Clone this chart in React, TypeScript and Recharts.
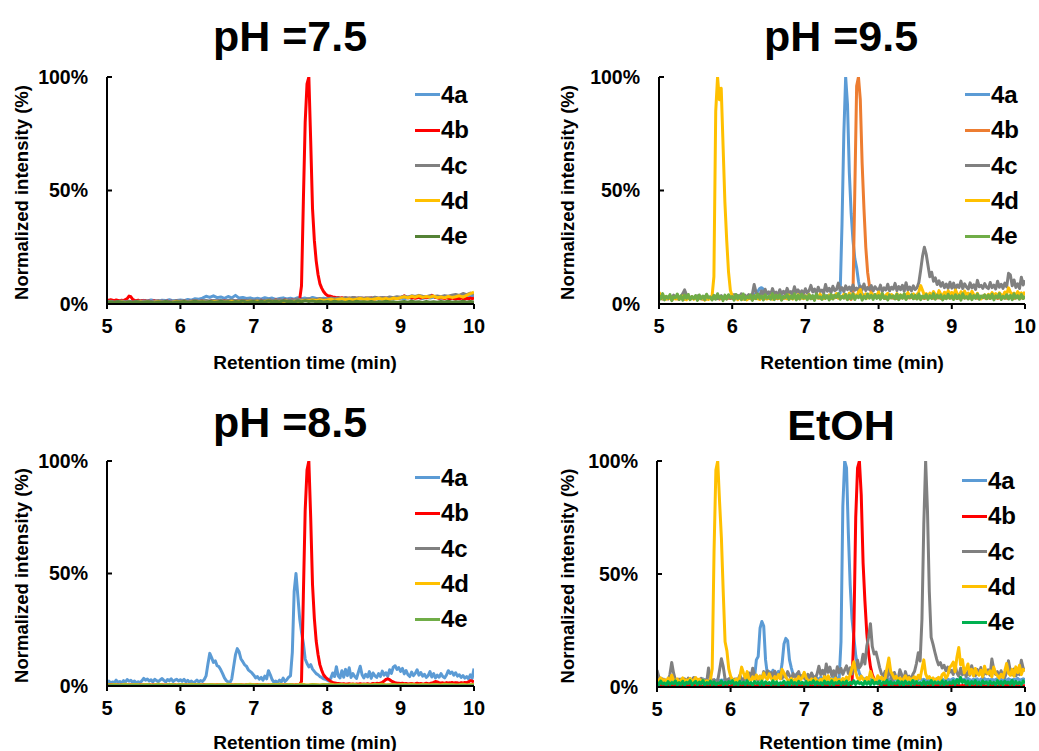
import React from "react";
import { LineChart, Line, XAxis, YAxis, Legend, Label } from "recharts";

// sampling grids of the chromatograms (min)
const timesFine = Array.from({ length: 201 }, (_, i) => +(5 + i * 0.025).toFixed(3));
const timesCoarse = Array.from({ length: 101 }, (_, i) => +(5 + i * 0.05).toFixed(2));

const xTicks = [5, 6, 7, 8, 9, 10];
const yTicks = [0, 50, 100];
const names = ["4a", "4b", "4c", "4d", "4e"];

const BLUE = "#5B9BD5";
const RED = "#FF0000";
const ORANGE = "#ED7D31";
const GRAY = "#808080";
const YELLOW = "#FFC000";

// ---------- pH = 7.5 ----------
const ph75_4a = [
  1.2, 1.0, 1.3, 0.9, 1.1, 1.4, 1.0, 1.2, 1.5, 1.1,
  1.6, 1.3, 1.8, 1.4, 1.2, 1.7, 1.5, 1.9, 1.4, 1.6,
  1.8, 1.5, 2.0, 1.7, 2.3, 2.1, 2.6, 3.4, 2.9, 3.6,
  2.8, 3.1, 2.5, 3.3, 2.7, 3.8, 2.6, 2.9, 2.4, 2.7,
  2.2, 2.5, 2.1, 2.8, 2.3, 2.6, 2.0, 2.4, 2.7, 2.2,
  2.5, 2.1, 2.8, 2.3, 2.6, 2.2, 2.9, 2.4, 2.1, 2.5,
  2.3, 2.7, 2.2, 2.5, 2.0, 2.6, 2.3, 2.1, 2.4, 2.2,
  2.0, 2.4, 2.1, 2.6, 2.3, 2.0, 2.5, 2.2, 2.7, 2.4,
  2.6, 2.3, 2.8, 2.5, 3.0, 2.7, 2.4, 2.9, 2.6, 3.1,
  2.8, 2.5, 3.0, 2.7, 3.2, 2.9, 3.4, 3.0, 3.6, 3.2,
  3.5,
];
const ph75_4b = [
  1.8, 1.6, 1.9, 1.7, 1.5, 1.8, 1.6, 1.4, 1.7, 1.5, 1.9, 2.4, 3.5, 3.2, 2.0, 1.6, 1.4, 1.7, 1.3, 1.5,
  1.2, 1.4, 1.1, 1.3, 1.0, 1.2, 1.4, 1.1, 1.3, 1.0, 1.2, 0.9, 1.1, 1.3, 1.0, 1.2, 0.9, 1.1, 1.3, 1.0,
  1.2, 1.0, 1.3, 1.1, 0.9, 1.2, 1.0, 1.4, 1.1, 1.3, 1.0, 1.2, 1.4, 1.1, 1.3, 1.0, 1.2, 1.5, 1.1, 1.3,
  1.2, 1.4, 1.1, 1.3, 1.5, 1.2, 1.4, 1.1, 1.3, 1.6, 1.2, 1.4, 1.3, 1.5, 1.2, 1.4, 1.6, 1.3, 1.5, 1.2,
  1.4, 1.6, 1.3, 1.5, 1.7, 1.4, 1.6, 1.3, 1.5, 1.7, 1.4, 1.6, 1.8, 1.5, 1.7, 1.4, 1.6, 1.8, 1.5, 1.7,
  1.6, 1.8, 1.5, 1.7, 1.6, 2.0, 8, 45, 80, 97, 100, 72, 42, 28, 19, 13, 9, 7, 5.5, 4.5,
  3.8, 3.5, 3.4, 3.1, 3.0, 2.8, 2.9, 2.6, 2.8, 2.5, 2.7, 2.4, 2.6, 2.3, 2.5, 2.7, 2.4, 2.6, 2.3, 2.5,
  2.4, 2.6, 2.3, 2.5, 2.7, 2.4, 2.2, 2.5, 2.3, 2.6, 2.4, 2.7, 2.5, 2.3, 2.6, 2.8, 2.5, 2.7, 2.9, 2.6,
  2.8, 3.2, 3.6, 3.0, 2.7, 2.9, 2.6, 2.8, 2.5, 2.7, 2.9, 2.6, 2.8, 3.0, 2.7, 2.9, 3.3, 3.8, 3.4, 2.9,
  2.7, 2.5, 2.8, 2.6, 2.4, 2.7, 2.5, 2.3, 2.6, 2.4, 2.2, 2.5, 2.3, 2.6, 2.4, 2.2, 2.5, 2.3, 2.6, 2.4,
  2.5,
];
const ph75_4c = [
  1.0, 1.2, 0.9, 1.1, 1.3, 1.0, 1.2, 0.9, 1.1, 1.3,
  1.1, 1.3, 1.0, 1.2, 1.4, 1.1, 1.3, 1.0, 1.2, 1.4,
  1.2, 1.4, 1.1, 1.3, 1.5, 1.2, 1.4, 1.6, 1.3, 1.5,
  1.4, 1.6, 1.3, 1.5, 1.7, 1.4, 1.6, 1.3, 1.5, 1.7,
  1.5, 1.7, 1.4, 1.6, 1.8, 1.5, 1.7, 1.9, 1.6, 1.8,
  1.7, 1.9, 2.2, 1.8, 2.0, 2.3, 1.9, 2.1, 2.4, 2.0,
  2.2, 2.6, 2.3, 2.7, 2.4, 2.8, 2.5, 2.9, 2.6, 2.8,
  2.5, 2.8, 2.6, 3.0, 2.7, 2.9, 2.6, 3.1, 2.8, 3.2,
  3.0, 3.4, 3.1, 3.6, 3.3, 3.8, 3.4, 3.2, 3.6, 3.3,
  3.5, 3.2, 3.7, 3.4, 3.9, 4.2, 3.8, 4.6, 4.1, 4.8,
  4.3,
];
const ph75_4d = [
  0.6, 0.8, 0.5, 0.7, 0.9, 0.6, 0.8, 0.5, 0.7, 0.9,
  0.7, 0.9, 0.6, 0.8, 1.0, 0.7, 0.9, 0.6, 0.8, 1.0,
  0.8, 1.0, 0.7, 0.9, 1.1, 0.8, 1.0, 0.7, 0.9, 1.1,
  0.9, 1.1, 0.8, 1.0, 1.2, 0.9, 1.1, 0.8, 1.0, 1.2,
  1.0, 1.2, 0.9, 1.1, 1.3, 1.0, 1.2, 0.9, 1.1, 1.3,
  0.5, 1.2, 1.0, 1.3, 1.6, 1.4, 1.8, 1.5, 1.9, 1.6,
  1.8, 2.1, 1.7, 2.0, 2.3, 1.9, 2.2, 1.8, 2.1, 2.4,
  2.0, 2.3, 1.9, 2.2, 2.5, 2.1, 2.4, 2.0, 2.6, 2.3,
  2.8, 3.2, 2.7, 3.4, 3.0, 3.6, 2.9, 3.3, 3.0, 3.5,
  2.8, 3.1, 2.7, 3.3, 2.9, 3.2, 3.6, 3.0, 3.8, 4.6,
  5.2,
];
const ph75_4e = [
  0.6, 0.9, 0.7, 1.0, 0.8, 0.6, 0.9, 0.7, 1.0, 0.8,
  0.7, 1.0, 0.8, 0.6, 0.9, 0.7, 1.1, 0.8, 0.6, 0.9,
  0.8, 1.1, 0.7, 0.9, 1.2, 0.8, 1.0, 0.7, 1.1, 0.9,
  0.8, 1.2, 0.9, 1.0, 0.7, 1.1, 0.9, 1.3, 0.8, 1.0,
  1.1, 0.8, 1.2, 0.9, 1.3, 1.0, 1.2, 0.9, 1.4, 1.1,
  1.2, 0.9, 1.3, 1.0, 1.4, 1.1, 1.3, 1.0, 1.2, 0.9,
  1.1, 0.8, 1.2, 0.9, 1.0, 0.7, 1.1, 0.8, 1.2, 0.9,
  1.0, 0.8, 1.1, 0.7, 1.0, 0.8, 1.2, 0.9, 1.0, 0.7,
  0.9, 1.1, 0.8, 1.2, 0.9, 1.0, 0.7, 1.1, 0.8, 1.0,
  0.8, 1.1, 0.9, 1.2, 0.8, 1.0, 0.9, 1.2, 0.8, 1.1,
  0.9,
];

// ---------- pH = 9.5 ----------
const ph95_4a = [
  2.5, 3.0, 2.2, 2.8, 2.4, 3.1, 2.6, 2.9, 2.3, 2.7, 3.0, 2.5, 2.8, 2.2, 2.6, 3.0, 2.4, 2.8, 2.5, 2.9,
  2.6, 3.0, 2.4, 2.8, 2.5, 2.9, 2.3, 2.7, 3.1, 2.5, 2.8, 2.4, 2.9, 2.6, 3.0, 2.5, 2.8, 2.3, 2.7, 2.9,
  2.6, 3.1, 2.7, 3.3, 2.9, 3.4, 3.0, 3.5, 3.2, 3.6, 3.3, 3.8, 4.2, 4.8, 5.5, 6.8, 7.2, 6.5, 5.6, 4.8,
  4.2, 3.8, 3.5, 3.9, 3.4, 3.7, 3.3, 3.6, 3.2, 3.5, 3.1, 3.4, 3.0, 3.3, 3.6, 3.2, 3.5, 3.1, 3.4, 3.0,
  3.3, 3.6, 3.2, 3.5, 3.1, 3.4, 3.7, 3.3, 3.6, 3.2, 3.5, 3.8, 3.4, 3.7, 3.3, 3.6, 3.9, 3.5, 3.8, 5.0,
  35, 75, 100, 88, 58, 40, 28, 20, 16, 10, 6, 4.5, 3.8, 3.5, 3.9, 3.4, 3.7, 3.3, 3.6, 3.2,
  3.5, 3.1, 3.4, 3.0, 3.3, 3.6, 3.2, 3.5, 3.1, 3.4, 3.0, 3.3, 3.6, 3.2, 3.5, 3.1, 3.4, 3.7, 3.3, 3.6,
  3.2, 3.5, 3.1, 3.4, 3.0, 3.3, 3.6, 3.2, 3.5, 3.1, 3.4, 3.0, 3.3, 3.6, 3.2, 3.5, 3.1, 3.4, 3.0, 3.3,
  3.5, 3.2, 3.6, 3.1, 3.4, 3.0, 3.3, 3.7, 3.2, 3.5, 3.1, 3.4, 3.6, 3.0, 3.3, 3.5, 3.2, 3.6, 3.1, 3.4,
  3.2, 3.5, 3.0, 3.4, 3.6, 3.1, 3.3, 3.5, 3.2, 3.6, 3.0, 3.4, 3.2, 3.5, 3.1, 3.3, 3.6, 3.2, 3.4, 3.0,
  3.2,
];
const ph95_4b = [
  2.4, 2.8, 2.2, 2.6, 3.0, 2.3, 2.7, 2.1, 2.5, 2.9, 2.2, 2.6, 2.4, 2.8, 2.1, 2.5, 2.9, 2.3, 2.7, 2.4,
  2.6, 2.2, 2.8, 2.4, 2.1, 2.7, 2.3, 2.9, 2.5, 2.2, 2.6, 2.4, 2.8, 2.1, 2.5, 2.3, 2.7, 2.2, 2.6, 2.4,
  2.5, 2.9, 2.3, 2.7, 2.4, 2.8, 2.2, 2.6, 3.0, 2.5, 2.3, 2.7, 2.4, 2.9, 2.6, 2.2, 2.8, 2.5, 2.3, 2.7,
  2.4, 2.8, 2.6, 3.0, 2.5, 2.3, 2.7, 2.9, 2.4, 2.6, 3.1, 2.5, 2.8, 2.4, 2.7, 3.0, 2.6, 2.3, 2.9, 2.5,
  2.7, 3.1, 2.6, 2.9, 2.4, 2.8, 3.2, 2.7, 2.5, 3.0, 2.6, 2.9, 3.3, 2.8, 2.5, 3.1, 2.7, 3.0, 2.6, 2.9,
  2.8, 3.2, 2.7, 3.0, 2.6, 2.0, 4, 50, 96, 100, 90, 62, 42, 25, 14, 8, 5, 3.5, 3.0, 3.3,
  2.9, 2.6, 3.1, 2.7, 2.4, 2.9, 2.6, 3.0, 2.5, 2.8, 2.4, 2.9, 2.6, 3.1, 2.7, 2.5, 2.9, 2.6, 3.0, 2.7,
  2.5, 2.9, 2.6, 3.0, 2.7, 2.4, 2.8, 2.6, 3.1, 2.7, 2.5, 2.9, 2.6, 3.0, 2.4, 2.8, 2.5, 2.9, 2.7, 3.1,
  2.6, 3.0, 2.7, 2.4, 2.8, 2.5, 3.0, 2.6, 2.9, 2.5, 2.8, 2.4, 3.1, 2.7, 2.5, 2.9, 2.6, 3.0, 2.7, 2.4,
  2.8, 2.5, 3.0, 2.6, 2.9, 2.4, 2.7, 3.1, 2.6, 2.9, 2.5, 2.8, 3.0, 2.6, 2.4, 2.9, 2.7, 3.1, 2.6, 2.8,
  2.7,
];
const ph95_4c = [
  3.2, 2.4, 3.8, 2.6, 3.0, 2.2, 3.5, 2.8, 3.9, 2.5, 3.1, 2.7, 3.4, 4.6, 6.2, 4.1, 3.0, 2.6, 3.3, 2.4,
  2.9, 3.6, 2.3, 3.1, 2.6, 3.4, 2.2, 2.9, 2.5, 3.2, 2.7, 3.5, 2.4, 3.0, 3.7, 2.6, 3.3, 2.8, 3.6, 2.5,
  3.4, 4.2, 3.1, 3.8, 2.9, 4.5, 3.3, 3.9, 3.0, 4.1, 3.5, 4.3, 8.6, 5.2, 4.0, 3.6, 5.8, 4.2, 6.5, 4.6,
  5.4, 4.1, 6.8, 4.5, 5.2, 3.9, 6.3, 4.4, 5.6, 4.0, 6.9, 4.8, 5.5, 4.2, 7.6, 5.1, 6.2, 4.6, 5.8, 4.3,
  6.7, 4.9, 5.8, 8.2, 5.3, 6.6, 4.7, 7.4, 5.5, 6.1, 4.8, 8.6, 5.6, 6.9, 5.0, 7.8, 5.9, 6.4, 9.2, 6.0,
  7.2, 5.4, 8.0, 6.3, 7.5, 5.8, 8.4, 6.1, 7.0, 5.6, 7.9, 6.2, 8.8, 5.9, 7.3, 6.4, 8.1, 5.7, 7.6, 6.6,
  6.0, 8.3, 5.5, 7.1, 6.2, 8.7, 5.8, 7.4, 6.5, 9.1, 5.9, 7.7, 6.3, 8.2, 5.6, 9.4, 6.1, 7.5, 5.8, 8.0,
  6.4, 7.2, 9.5, 15, 21, 25, 22, 17, 12, 14, 10, 11.5, 8.6, 10.2, 7.8, 9.4, 7.2, 8.8, 6.9, 9.6,
  7.0, 9.2, 6.5, 8.4, 7.3, 10.1, 6.8, 8.9, 7.5, 6.6, 9.3, 7.1, 8.5, 6.4, 10.4, 7.6, 8.2, 6.9, 9.0, 7.4,
  6.8, 9.5, 7.2, 8.3, 6.6, 10.0, 7.4, 8.7, 6.9, 9.2, 7.6, 13.5, 12.8, 8.0, 10.6, 7.3, 8.9, 6.8, 11.8, 8.4,
  10.5,
];
const ph95_4d = [
  5.2, 3.8, 2.6, 3.4, 2.1, 3.0, 2.4, 1.8, 2.9, 2.2, 3.3, 2.0, 2.7, 3.5, 2.3, 1.9, 2.8, 2.4, 3.1, 2.1,
  2.6, 1.9, 3.2, 2.3, 2.8, 1.7, 2.5, 2.0, 3.0, 3.5, 12, 85, 100, 90, 95, 70, 45, 28, 14, 6,
  3.5, 2.4, 3.1, 1.9, 2.7, 3.3, 2.2, 2.9, 1.8, 2.6, 3.4, 2.1, 2.8, 3.6, 2.3, 2.0, 3.0, 2.5, 3.7, 2.2,
  2.9, 3.5, 2.1, 2.6, 3.8, 2.4, 3.1, 2.0, 2.7, 3.4, 2.3, 3.9, 2.6, 2.2, 3.3, 2.8, 4.1, 2.5, 3.0, 2.4,
  3.6, 2.3, 4.2, 2.9, 3.3, 2.1, 3.8, 2.6, 4.4, 3.0, 2.4, 3.5, 2.8, 4.0, 2.5, 3.7, 3.1, 4.6, 2.7, 3.4,
  2.9, 4.3, 3.2, 2.6, 4.8, 3.5, 2.8, 4.1, 3.3, 5.2, 6.4, 3.9, 3.0, 4.5, 2.7, 3.8, 4.9, 3.2, 4.1, 3.6,
  5.3, 3.1, 4.4, 2.8, 3.9, 4.7, 3.0, 4.2, 3.5, 2.9, 4.6, 3.3, 4.0, 2.8, 4.3, 3.6, 5.0, 3.2, 3.8, 4.5,
  3.1, 4.2, 5.4, 8.1, 6.0, 3.9, 4.6, 3.3, 4.8, 3.6, 5.5, 4.1, 3.4, 5.9, 4.3, 3.7, 5.2, 4.0, 5.8, 4.4,
  5.1, 3.8, 6.2, 4.5, 3.6, 5.4, 4.2, 5.7, 3.9, 4.8, 3.5, 5.6, 4.1, 3.3, 4.7, 2.6, 2.2, 3.4, 4.0, 3.1,
  4.3, 3.5, 5.0, 3.8, 4.6, 3.2, 4.9, 4.1, 3.6, 5.3, 4.4, 7.1, 5.2, 4.0, 4.8, 3.7, 5.5, 4.2, 4.9, 3.9,
  5.4,
];
const ph95_4e = [
  3.8, 2.2, 4.6, 1.8, 3.4, 2.6, 4.1, 1.5, 3.2, 2.8, 4.4, 2.0, 3.6, 1.7, 3.9, 2.5, 4.2, 1.9, 3.3, 2.4,
  3.7, 1.6, 4.0, 2.3, 3.5, 1.9, 4.3, 2.7, 3.1, 1.8, 3.8, 2.1, 4.5, 2.6, 3.4, 1.5, 3.9, 2.2, 4.1, 2.8,
  3.3, 1.7, 4.2, 2.4, 3.6, 1.9, 4.4, 2.0, 3.2, 2.7, 4.0, 1.6, 3.7, 2.3, 4.3, 2.5, 3.5, 1.8, 4.1, 2.6,
  3.4, 2.1, 4.6, 1.9, 3.8, 2.5, 4.0, 1.7, 3.3, 2.8, 4.2, 2.0, 3.6, 2.4, 4.5, 1.8, 3.9, 2.2, 4.3, 2.6,
  3.5, 1.9, 4.1, 2.3, 3.7, 1.6, 4.4, 2.7, 3.2, 2.0, 4.0, 2.5, 3.6, 1.8, 4.2, 2.2, 3.8, 2.9, 4.6, 2.1,
  3.4, 2.6, 4.3, 1.9, 3.9, 2.4, 4.5, 2.0, 3.6, 2.8, 4.1, 1.7, 3.5, 2.3, 4.4, 2.6, 3.8, 2.0, 4.2, 2.5,
  3.7, 2.1, 4.6, 2.4, 3.3, 1.8, 4.0, 2.7, 3.6, 2.2, 4.3, 1.9, 3.9, 2.5, 4.5, 2.0, 3.4, 2.8, 4.1, 2.3,
  3.8, 2.2, 4.4, 1.9, 3.5, 2.6, 4.2, 2.0, 3.7, 2.4, 4.6, 2.1, 3.9, 2.7, 4.0, 1.8, 3.6, 2.3, 4.3, 2.5,
  3.6, 2.0, 4.1, 2.4, 3.8, 1.7, 4.5, 2.6, 3.3, 2.2, 4.2, 1.9, 3.7, 2.5, 4.4, 2.1, 3.5, 2.8, 4.0, 2.3,
  3.9, 2.4, 4.3, 1.8, 3.6, 2.7, 4.6, 2.0, 3.4, 2.5, 4.1, 2.2, 3.8, 1.9, 4.5, 2.6, 3.7, 2.1, 4.2, 2.4,
  3.5,
];

// ---------- pH = 8.5 ----------
const ph85_4a = [
  1.5, 2.2, 1.2, 1.8, 1.4, 2.6, 1.6, 2.0, 1.3, 2.4, 1.7, 2.9, 2.1, 2.5, 1.6, 2.2, 1.4, 1.9, 1.5, 2.3,
  3.4, 2.6, 3.1, 2.2, 2.8, 1.8, 3.0, 2.4, 1.9, 2.7, 3.3, 2.5, 1.8, 2.9, 2.3, 3.2, 2.0, 2.6, 3.0, 2.2,
  2.8, 2.1, 3.0, 1.8, 2.5, 1.6, 2.2, 1.4, 1.9, 2.6, 1.8, 2.4, 2.0, 2.9, 4.5, 9.8, 14.5, 12.6, 10.5, 11.2,
  9.0, 8.6, 7.2, 5.5, 3.6, 2.4, 1.8, 1.5, 3.2, 8.5, 13.8, 16.6, 15.2, 12.0, 10.8, 9.4, 8.8, 7.2, 6.5, 5.8,
  4.8, 3.6, 4.2, 3.0, 3.8, 2.6, 4.4, 3.2, 6.8, 5.0, 2.8, 1.6, 2.2, 1.5, 2.6, 1.8, 3.5, 2.0, 2.8, 3.9,
  4.5, 15, 42, 50, 40, 30, 24, 19, 12, 10, 8.5, 9.5, 7.5, 6.5, 5.5, 5.0, 4.2, 3.8, 3.2, 3.0,
  2.6, 2.2, 3.5, 5.8, 4.2, 8.6, 4.5, 3.6, 6.8, 3.9, 7.4, 4.6, 8.1, 3.8, 5.5, 4.2, 3.4, 6.2, 8.8, 5.0,
  3.6, 5.2, 4.0, 6.4, 3.4, 5.8, 4.5, 3.8, 5.5, 4.2, 6.6, 4.8, 5.9, 4.3, 7.2, 5.6, 8.4, 9.0, 7.4, 8.2,
  6.5, 7.8, 5.4, 6.9, 5.0, 4.2, 6.2, 4.6, 5.6, 7.2, 4.8, 6.0, 4.4, 5.2, 3.8, 4.6, 6.4, 4.0, 5.5, 3.6,
  4.8, 3.9, 5.5, 4.2, 3.6, 4.9, 6.8, 5.6, 6.2, 4.8, 5.9, 4.4, 5.0, 3.8, 4.6, 3.5, 4.2, 3.2, 5.0, 3.4,
  7.8,
];
const ph85_4b = [
  0.4, 0.6, 0.5, 0.7, 0.4, 0.6, 0.5, 0.3, 0.6, 0.5, 0.4, 0.7, 0.5, 0.6, 0.4, 0.5, 0.7, 0.4, 0.6, 0.5,
  0.6, 0.4, 0.5, 0.7, 0.3, 0.6, 0.4, 0.5, 0.7, 0.4, 0.6, 0.5, 0.3, 0.6, 0.5, 0.7, 0.4, 0.6, 0.3, 0.5,
  0.5, 0.7, 0.4, 0.6, 0.5, 0.3, 0.6, 0.4, 0.7, 0.5, 0.4, 0.6, 0.5, 0.7, 0.4, 0.5, 0.3, 0.6, 0.5, 0.4,
  0.6, 0.5, 0.4, 0.7, 0.5, 0.6, 0.3, 0.5, 0.6, 0.4, 0.7, 0.5, 0.4, 0.6, 0.5, 0.3, 0.6, 0.7, 0.4, 0.5,
  0.4, 0.6, 0.7, 0.5, 0.4, 0.6, 0.5, 0.3, 0.6, 0.4, 0.5, 0.7, 0.4, 0.6, 0.5, 0.4, 0.6, 0.5, 0.7, 0.4,
  0.5, 0.6, 0.4, 0.6, 0.5, 0.7, 2, 40, 78, 96, 100, 75, 45, 30, 20, 14, 9.5, 7, 5, 4,
  3.2, 2.6, 2.0, 1.6, 1.4, 1.2, 1.1, 1.0, 0.9, 1.0, 0.8, 0.9, 1.0, 0.8, 0.9, 0.7, 0.9, 0.8, 1.0, 0.8,
  0.9, 0.8, 1.0, 0.8, 0.9, 1.1, 0.9, 1.2, 1.0, 1.3, 1.6, 2.2, 2.9, 3.2, 2.8, 2.2, 1.8, 1.5, 1.3, 1.2,
  1.1, 1.2, 1.0, 1.1, 0.9, 1.0, 1.1, 0.9, 1.0, 1.2, 1.0, 1.1, 0.9, 1.0, 1.2, 1.0, 1.1, 1.3, 1.6, 2.0,
  1.8, 1.5, 1.3, 1.4, 1.2, 1.5, 1.3, 1.4, 1.6, 1.3, 1.5, 1.4, 1.2, 1.5, 1.3, 1.6, 1.4, 1.8, 2.4, 2.2,
  1.8,
];
const ph85_4c = [
  0.4, 0.3, 0.5, 0.3, 0.4, 0.6, 0.3, 0.4, 0.5, 0.3,
  0.4, 0.5, 0.3, 0.4, 0.6, 0.4, 0.3, 0.5, 0.4, 0.3,
  0.5, 0.4, 0.3, 0.6, 0.4, 0.5, 0.3, 0.4, 0.5, 0.4,
  0.3, 0.5, 0.4, 0.6, 0.3, 0.4, 0.5, 0.3, 0.4, 0.6,
  0.4, 0.3, 0.5, 0.4, 0.3, 0.5, 0.4, 0.6, 0.3, 0.4,
  0.5, 0.3, 0.4, 0.6, 0.4, 0.3, 0.5, 0.4, 0.3, 0.5,
  0.4, 0.6, 0.3, 0.4, 0.5, 0.3, 0.4, 0.6, 0.4, 0.3,
  0.5, 0.4, 0.3, 0.5, 0.4, 0.6, 0.3, 0.4, 0.5, 0.3,
  0.4, 0.5, 0.3, 0.6, 0.4, 0.3, 0.5, 0.4, 0.3, 0.5,
  0.4, 0.3, 0.6, 0.4, 0.5, 0.3, 0.4, 0.6, 0.3, 0.4,
  0.5,
];
const ph85_4d = [
  0.6, 0.5, 0.7, 0.5, 0.6, 0.8, 0.5, 0.6, 0.7, 0.5,
  0.6, 0.7, 0.5, 0.6, 0.8, 0.6, 0.5, 0.7, 0.6, 0.5,
  0.7, 0.6, 0.5, 0.8, 0.6, 0.7, 0.5, 0.6, 0.7, 0.6,
  0.5, 0.7, 0.6, 0.8, 0.5, 0.6, 0.7, 0.5, 0.6, 0.8,
  0.6, 0.5, 0.7, 0.6, 0.5, 0.7, 0.6, 0.8, 0.5, 0.6,
  0.7, 0.5, 0.6, 0.8, 0.6, 0.5, 0.7, 0.6, 0.5, 0.7,
  0.6, 0.8, 0.5, 0.6, 0.7, 0.5, 0.6, 0.8, 0.6, 0.5,
  0.7, 0.6, 0.5, 0.7, 0.6, 0.8, 0.5, 0.6, 0.7, 0.5,
  0.6, 0.7, 0.5, 0.8, 0.6, 0.5, 0.7, 0.6, 0.5, 0.7,
  0.6, 0.5, 0.8, 0.6, 0.7, 0.5, 0.6, 0.8, 0.5, 0.6,
  0.7,
];
const ph85_4e = [
  0.3, 0.2, 0.4, 0.2, 0.3, 0.4, 0.2, 0.3, 0.4, 0.2,
  0.3, 0.4, 0.2, 0.3, 0.5, 0.3, 0.2, 0.4, 0.3, 0.2,
  0.4, 0.3, 0.2, 0.4, 0.3, 0.4, 0.2, 0.3, 0.4, 0.3,
  0.2, 0.4, 0.3, 0.5, 0.2, 0.3, 0.4, 0.2, 0.3, 0.4,
  0.3, 0.2, 0.4, 0.3, 0.2, 0.4, 0.3, 0.5, 0.2, 0.3,
  0.4, 0.2, 0.3, 0.5, 0.3, 0.2, 0.4, 0.3, 0.2, 0.4,
  0.3, 0.4, 0.2, 0.3, 0.4, 0.2, 0.3, 0.5, 0.3, 0.2,
  0.4, 0.3, 0.2, 0.4, 0.3, 0.5, 0.2, 0.3, 0.4, 0.2,
  0.3, 0.4, 0.2, 0.5, 0.3, 0.2, 0.4, 0.3, 0.2, 0.4,
  0.3, 0.2, 0.5, 0.3, 0.4, 0.2, 0.3, 0.4, 0.2, 0.3,
  0.4,
];

// ---------- EtOH ----------
const etoh_4a = [
  3.2, 2.6, 3.8, 2.9, 3.4, 2.5, 3.1, 2.8, 3.6, 2.7, 3.3, 2.4, 3.0, 3.5, 2.6, 3.2, 2.9, 3.7, 2.5, 3.0,
  2.8, 3.4, 2.6, 3.1, 2.5, 3.6, 2.9, 3.2, 2.7, 3.5, 2.4, 3.0, 2.8, 3.3, 2.6, 3.1, 2.9, 3.4, 2.5, 3.2,
  2.9, 3.3, 2.6, 3.5, 3.0, 3.8, 3.2, 3.6, 3.1, 3.9, 3.4, 3.7, 4.2, 4.0, 12.0, 13.5, 26, 29, 27, 12,
  5.5, 6.8, 5.2, 7.4, 6.0, 5.6, 6.9, 5.3, 10.5, 19, 21.5, 20.5, 12, 8.5, 5.5, 4.6, 5.8, 4.2, 3.8, 4.5,
  4.0, 3.5, 4.8, 3.7, 4.2, 3.4, 4.6, 3.9, 3.3, 4.4, 3.6, 4.1, 3.2, 4.5, 3.8, 3.4, 4.3, 3.7, 4.0, 3.6,
  20, 80, 100, 97, 68, 45, 30, 22, 14, 9, 6, 4.5, 3.8, 3.5, 4.0, 3.6, 3.2, 3.8, 3.4, 3.1,
  3.4, 2.9, 3.7, 3.1, 2.7, 3.5, 3.0, 3.8, 2.8, 3.3, 3.6, 2.9, 3.4, 3.1, 2.6, 3.5, 3.0, 3.7, 2.8, 3.2,
  3.5, 2.9, 3.3, 3.8, 3.0, 3.4, 2.7, 3.6, 3.1, 2.8, 3.5, 3.0, 3.7, 2.9, 3.3, 3.6, 2.8, 3.2, 3.5, 3.0,
  3.3, 3.7, 2.9, 3.4, 3.1, 3.6, 2.8, 3.5, 3.0, 3.8, 3.2, 2.9, 3.5, 3.1, 3.6, 2.8, 3.4, 3.0, 3.7, 3.1,
  3.4, 3.0, 3.6, 2.9, 3.3, 3.7, 3.1, 3.5, 2.8, 3.4, 3.0, 3.6, 3.2, 2.9, 3.5, 3.1, 3.8, 3.0, 3.3, 3.6,
  3.2,
];
const etoh_4b = [
  0.6, 0.9, 0.5, 0.8, 0.4, 0.7, 1.0, 0.6, 0.8, 0.5, 0.7, 0.9, 0.4, 0.6, 0.8, 0.5, 0.9, 0.6, 0.7, 0.4,
  0.8, 0.5, 0.7, 0.9, 0.6, 0.4, 0.8, 0.6, 0.9, 0.5, 0.7, 0.4, 0.8, 0.6, 0.5, 0.9, 0.7, 0.5, 0.8, 0.6,
  0.5, 0.8, 0.6, 0.9, 0.4, 0.7, 0.5, 0.8, 0.6, 1.0, 0.5, 0.7, 0.9, 0.6, 0.4, 0.8, 0.5, 0.7, 0.6, 0.9,
  0.7, 0.5, 0.8, 0.6, 0.9, 0.4, 0.7, 0.6, 0.8, 0.5, 0.9, 0.6, 0.7, 0.4, 0.8, 0.6, 0.5, 0.9, 0.7, 0.5,
  0.8, 0.6, 0.5, 0.9, 0.7, 0.4, 0.8, 0.6, 0.7, 0.5, 0.9, 0.6, 0.8, 0.5, 0.7, 0.4, 0.6, 0.8, 0.5, 0.7,
  0.6, 0.8, 0.5, 0.7, 0.6, 0.8, 1.5, 25, 75, 97, 100, 85, 55, 38, 24, 15, 9, 5.5, 3.5, 2.2,
  1.6, 1.2, 0.9, 0.8, 0.6, 0.9, 0.5, 0.7, 0.8, 0.6, 0.9, 0.5, 0.7, 0.6, 0.8, 0.4, 0.7, 0.9, 0.5, 0.6,
  0.8, 0.6, 0.9, 0.5, 0.7, 0.6, 0.8, 0.4, 0.7, 0.9, 0.6, 0.5, 0.8, 0.7, 0.4, 0.6, 0.9, 0.5, 0.7, 0.8,
  0.5, 0.7, 0.9, 0.6, 0.8, 0.4, 0.7, 0.5, 0.9, 0.6, 0.8, 0.7, 0.5, 0.6, 0.9, 0.4, 0.7, 0.8, 0.6, 0.5,
  0.7, 0.9, 0.5, 0.8, 0.6, 0.4, 0.7, 0.9, 0.6, 0.5, 0.8, 0.6, 0.7, 0.9, 0.5, 0.6, 0.8, 0.4, 0.7, 0.6,
  0.6,
];
const etoh_4c = [
  7.5, 4.5, 2.8, 3.6, 2.2, 3.0, 2.5, 5.5, 10.8, 6.2, 3.0, 2.4, 3.5, 2.1, 2.8, 3.6, 2.3, 3.9, 2.6, 3.2,
  4.2, 2.5, 3.4, 2.2, 3.8, 2.6, 3.1, 2.0, 8.4, 4.0, 2.6, 3.3, 2.1, 2.8, 7.5, 12.5, 9.0, 3.5, 2.8, 3.6,
  4.0, 2.8, 3.5, 2.4, 3.2, 5.2, 3.6, 2.9, 4.5, 3.3, 6.2, 4.0, 8.3, 5.2, 3.8, 2.9, 4.8, 3.5, 6.8, 5.3,
  7.2, 4.6, 6.4, 3.9, 7.0, 5.1, 4.4, 6.3, 3.8, 5.6, 4.2, 6.8, 5.0, 3.6, 5.9, 4.3, 5.5, 6.8, 3.8, 5.2,
  4.1, 3.0, 5.6, 3.6, 6.2, 4.5, 3.8, 5.8, 9.2, 5.5, 7.4, 4.8, 10.2, 6.5, 8.8, 5.0, 7.2, 4.4, 9.0, 6.3,
  8.2, 5.6, 7.6, 9.4, 6.0, 8.5, 5.8, 10.6, 7.3, 11.8, 8.5, 9.8, 14.5, 10.2, 18, 22, 28, 18, 14.6, 15.5,
  12.2, 8.6, 5.8, 4.8, 6.9, 3.5, 8.2, 5.1, 2.9, 6.4, 4.2, 3.3, 7.6, 5.4, 2.1, 6.8, 3.9, 4.8, 2.6, 5.5,
  7.0, 10.4, 15.2, 11.5, 30, 72, 100, 78, 42, 22, 19, 15.5, 12.3, 9.8, 10.8, 8.4, 9.6, 7.2, 8.8, 6.5,
  7.4, 5.6, 9.8, 6.2, 4.8, 8.3, 5.4, 7.0, 4.6, 6.8, 5.2, 9.4, 6.5, 4.9, 7.8, 5.6, 8.6, 4.3, 6.9, 5.8,
  7.6, 5.2, 12.4, 8.0, 5.6, 6.8, 4.4, 7.2, 5.0, 4.2, 6.6, 11.6, 7.2, 5.4, 8.0, 4.9, 6.2, 5.5, 11.8, 8.4,
  7.0,
];
const etoh_4d = [
  3.5, 2.4, 4.1, 2.8, 3.3, 2.2, 3.9, 2.6, 5.2, 3.0, 2.5, 3.6, 2.1, 2.9, 4.0, 2.4, 3.2, 2.7, 3.8, 2.3,
  3.0, 4.2, 2.6, 3.5, 2.3, 3.1, 2.0, 2.8, 2.4, 3.0, 8, 60, 96, 100, 82, 66, 42, 20, 16, 8,
  4.8, 3.2, 2.4, 3.6, 2.1, 4.5, 8.8, 6.2, 4.0, 6.8, 3.5, 2.8, 4.5, 3.1, 5.3, 3.6, 4.8, 2.9, 6.2, 4.1,
  3.4, 5.8, 3.9, 2.8, 4.6, 3.3, 5.5, 3.6, 7.8, 6.2, 4.4, 3.2, 2.6, 3.8, 2.4, 3.5, 2.9, 4.6, 3.2, 4.3,
  6.5, 4.2, 3.0, 2.5, 3.6, 2.2, 3.8, 2.8, 2.4, 3.4, 2.7, 4.6, 3.1, 5.0, 2.9, 3.5, 2.6, 3.9, 2.8, 3.3,
  2.6, 3.8, 2.9, 4.4, 3.2, 5.6, 8.5, 11.2, 6.4, 4.0, 3.1, 4.8, 3.5, 2.7, 4.2, 3.0, 6.9, 4.5, 3.4, 2.8,
  5.0, 3.6, 4.4, 2.8, 3.9, 8.5, 12.8, 7.0, 5.5, 3.8, 4.7, 3.2, 4.0, 2.9, 3.6, 5.0, 3.3, 4.2, 2.7, 3.9,
  4.5, 3.1, 5.2, 3.8, 8.0, 12.0, 5.8, 3.9, 4.6, 3.2, 4.0, 2.8, 3.6, 4.3, 3.0, 5.5, 6.2, 3.9, 5.1, 8.6,
  9.5, 11.0, 6.8, 13.2, 17.5, 9.8, 12.1, 6.2, 8.0, 10.2, 5.6, 7.8, 4.9, 8.2, 6.0, 5.2, 7.4, 4.6, 9.2, 6.5,
  5.8, 7.2, 4.5, 8.8, 6.1, 5.0, 3.9, 5.6, 4.2, 7.0, 10.4, 6.3, 5.2, 7.8, 4.8, 8.9, 6.4, 9.6, 5.5, 7.8,
  7.2,
];
const etoh_4e = [
  2.2, 1.0, 2.6, 1.3, 1.8, 0.8, 2.4, 1.1, 2.0, 1.4, 2.7, 0.9, 1.9, 1.2, 2.5, 0.7, 2.1, 1.5, 2.8, 1.0,
  1.7, 2.5, 1.0, 2.2, 1.4, 2.9, 0.8, 2.0, 1.3, 2.6, 1.1, 2.3, 0.9, 1.8, 1.5, 2.7, 1.0, 2.1, 1.2, 2.4,
  1.6, 2.8, 1.1, 2.0, 0.9, 2.5, 1.4, 2.2, 1.0, 2.7, 1.3, 1.9, 0.8, 2.4, 1.5, 2.1, 1.1, 2.6, 0.9, 2.3,
  1.4, 2.0, 1.0, 2.7, 1.2, 2.3, 0.8, 1.9, 1.5, 2.6, 1.1, 2.2, 0.9, 2.8, 1.3, 2.0, 1.0, 2.5, 1.4, 2.1,
  1.2, 2.4, 0.9, 2.1, 1.5, 2.8, 1.0, 2.3, 1.3, 1.9, 0.8, 2.6, 1.4, 2.2, 1.1, 2.7, 0.9, 2.0, 1.6, 2.5,
  1.0, 2.2, 1.3, 2.6, 0.9, 2.1, 1.4, 2.8, 1.1, 2.4, 1.5, 2.0, 0.8, 2.5, 1.2, 2.3, 1.0, 2.9, 1.3, 2.1,
  1.4, 2.6, 1.0, 2.2, 1.6, 2.9, 0.9, 2.4, 1.2, 2.0, 1.5, 2.7, 1.1, 2.3, 0.8, 2.5, 1.3, 2.1, 1.0, 2.8,
  1.2, 2.4, 1.5, 2.0, 0.9, 2.6, 1.1, 2.2, 1.4, 2.9, 1.0, 2.3, 1.6, 2.1, 1.2, 2.7, 0.9, 2.5, 1.3, 2.2,
  1.5, 2.8, 1.1, 3.2, 1.6, 4.2, 2.0, 3.0, 1.3, 2.6, 1.0, 2.4, 1.4, 2.9, 1.2, 2.2, 0.9, 2.7, 1.5, 2.3,
  1.1, 2.5, 1.4, 2.1, 0.9, 2.8, 1.3, 2.4, 1.0, 2.6, 1.6, 2.2, 1.2, 3.0, 1.0, 2.5, 1.4, 2.1, 1.1, 2.7,
  1.6,
];

const FONT = "'Liberation Sans', Arial, Helvetica, sans-serif";

type Series = { name: string; color: string; times: number[]; values: number[] };

type PanelCfg = {
  title: string;
  box: { left: number; top: number; width: number; height: number };
  plot: { left: number; right: number; top: number; bottom: number };
  titleX: number;
  titleY: number;
  xLabelX: number;
  xLabelY: number;
  yLabelX: number;
  legendX: number;
  legendY: number;
  series: Series[];
};

function mk(colors: string[], times: number[][], values: number[][]): Series[] {
  return names.map((n, i) => ({ name: n, color: colors[i], times: times[i], values: values[i] }));
}

const F = timesFine;
const C = timesCoarse;

const panels: PanelCfg[] = [
  {
    title: "pH =7.5",
    box: { left: 0, top: 0, width: 520, height: 380 },
    plot: { left: 107, right: 474, top: 77, bottom: 304 },
    titleX: 290, titleY: 36, xLabelX: 305, xLabelY: 362, yLabelX: 21, legendX: 415, legendY: 95,
    series: mk([BLUE, RED, GRAY, YELLOW, "#548235"], [C, F, C, C, C], [ph75_4a, ph75_4b, ph75_4c, ph75_4d, ph75_4e]),
  },
  {
    title: "pH =9.5",
    box: { left: 520, top: 0, width: 519, height: 380 },
    plot: { left: 659, right: 1025, top: 77, bottom: 304 },
    titleX: 841, titleY: 36, xLabelX: 852, xLabelY: 362, yLabelX: 567, legendX: 965, legendY: 95,
    series: mk([BLUE, ORANGE, GRAY, YELLOW, "#70AD47"], [F, F, F, F, F], [ph95_4a, ph95_4b, ph95_4c, ph95_4d, ph95_4e]),
  },
  {
    title: "pH =8.5",
    box: { left: 0, top: 380, width: 520, height: 371 },
    plot: { left: 107, right: 474, top: 461, bottom: 686 },
    titleX: 290, titleY: 422, xLabelX: 305, xLabelY: 742, yLabelX: 21, legendX: 415, legendY: 478,
    series: mk([BLUE, RED, GRAY, YELLOW, "#70AD47"], [F, F, C, C, C], [ph85_4a, ph85_4b, ph85_4c, ph85_4d, ph85_4e]),
  },
  {
    title: "EtOH",
    box: { left: 520, top: 380, width: 519, height: 371 },
    plot: { left: 657, right: 1025, top: 461, bottom: 687 },
    titleX: 841, titleY: 425, xLabelX: 851, xLabelY: 742, yLabelX: 567, legendX: 962, legendY: 481,
    series: mk([BLUE, RED, GRAY, YELLOW, "#00B050"], [F, F, F, F, F], [etoh_4a, etoh_4b, etoh_4c, etoh_4d, etoh_4e]),
  },
];

const Y_AXIS_W = 70;
const X_AXIS_H = 40;
const ROW_H = 35.3;

function LegendList({ payload }: any) {
  return (
    <div style={{ fontFamily: FONT }}>
      {(payload || []).map((p: any) => (
        <div key={p.value} style={{ display: "flex", alignItems: "center", height: ROW_H }}>
          <span style={{ display: "inline-block", width: 25, height: 3, background: p.color, marginRight: 1 }} />
          <span style={{ fontSize: 24, fontWeight: 700, color: "#000", lineHeight: 1 }}>{p.value}</span>
        </div>
      ))}
    </div>
  );
}

function Panel({ cfg }: { cfg: PanelCfg }) {
  const { box, plot } = cfg;
  const margin = {
    top: plot.top - box.top,
    left: plot.left - box.left - Y_AXIS_W,
    right: box.left + box.width - plot.right,
    bottom: box.top + box.height - plot.bottom - X_AXIS_H,
  };
  const yMid = (plot.top + plot.bottom) / 2 + 2 - box.top;
  const tickStyle = { fontFamily: FONT, fontWeight: 700, fill: "#000" };

  return (
    <div style={{ position: "absolute", left: box.left, top: box.top, width: box.width, height: box.height }}>
      <div
        style={{
          position: "absolute",
          left: cfg.titleX - box.left - 150,
          top: cfg.titleY - box.top - 25,
          width: 300,
          height: 50,
          lineHeight: "50px",
          textAlign: "center",
          fontFamily: FONT,
          fontWeight: 700,
          fontSize: 43,
          color: "#000",
        }}
      >
        {cfg.title}
      </div>
      <LineChart width={box.width} height={box.height} margin={margin}>
        <XAxis
          type="number"
          dataKey="t"
          domain={[5, 10]}
          ticks={xTicks}
          allowDataOverflow
          height={X_AXIS_H}
          axisLine={{ stroke: "#000", strokeWidth: 2 }}
          tickLine={{ stroke: "#000", strokeWidth: 2 }}
          tickSize={5}
          tickMargin={10}
          tick={{ ...tickStyle, fontSize: 20 }}
        >
          <Label
            content={() => (
              <text
                x={cfg.xLabelX - box.left}
                y={cfg.xLabelY - box.top}
                textAnchor="middle"
                dominantBaseline="central"
                style={{ fontFamily: FONT, fontWeight: 700, fontSize: 19, fill: "#000" }}
              >
                Retention time (min)
              </text>
            )}
          />
        </XAxis>
        <YAxis
          type="number"
          domain={[0, 100]}
          ticks={yTicks}
          allowDataOverflow
          width={Y_AXIS_W}
          tickFormatter={(v: number) => `${v}%`}
          axisLine={{ stroke: "#000", strokeWidth: 2 }}
          tickLine={{ stroke: "#000", strokeWidth: 2 }}
          tickSize={-5}
          tickMargin={24}
          tick={{ ...tickStyle, fontSize: 19.5 }}
        >
          <Label
            content={() => (
              <text
                x={cfg.yLabelX - box.left}
                y={yMid}
                transform={`rotate(-90, ${cfg.yLabelX - box.left}, ${yMid})`}
                textAnchor="middle"
                dominantBaseline="central"
                style={{ fontFamily: FONT, fontWeight: 700, fontSize: 18.5, fill: "#000" }}
              >
                Normalized intensity (%)
              </text>
            )}
          />
        </YAxis>
        <Legend
          layout="vertical"
          align="center"
          verticalAlign="middle"
          wrapperStyle={{ left: cfg.legendX - box.left, top: cfg.legendY - ROW_H / 2 - box.top, width: 80, right: "auto", bottom: "auto" }}
          content={(props: any) => <LegendList payload={props.payload} />}
        />
        {cfg.series.map((s) => (
          <Line
            key={s.name}
            data={s.values.map((v, i) => ({ t: s.times[i], v }))}
            dataKey="v"
            name={s.name}
            type="linear"
            stroke={s.color}
            strokeWidth={3}
            strokeLinejoin="round"
            dot={false}
            activeDot={false}
            isAnimationActive={false}
          />
        ))}
      </LineChart>
    </div>
  );
}

export default function App() {
  return (
    <div style={{ position: "absolute", left: 0, top: 0, width: 1039, height: 751, background: "#fff", overflow: "hidden" }}>
      {panels.map((p) => (
        <Panel key={p.title} cfg={p} />
      ))}
    </div>
  );
}
